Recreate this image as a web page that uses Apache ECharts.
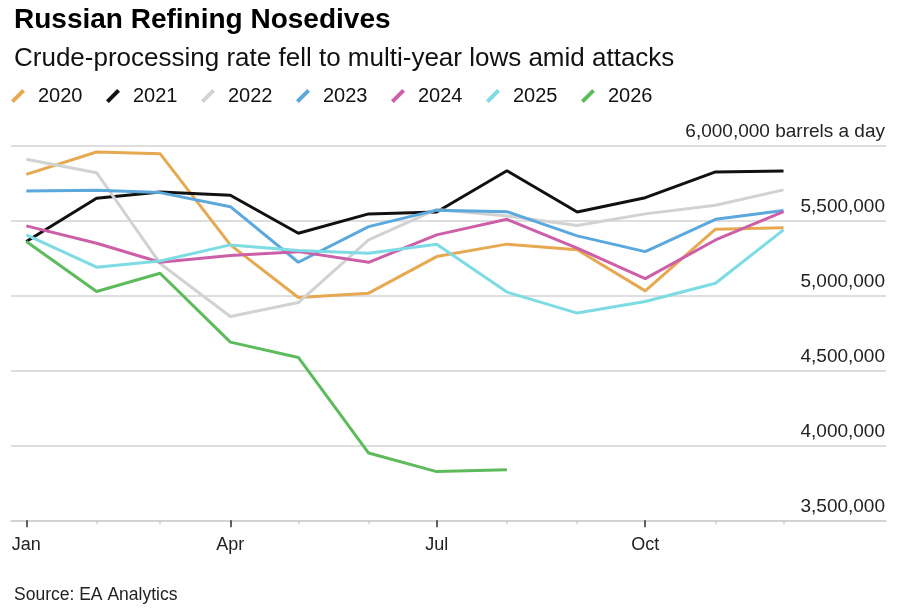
<!DOCTYPE html>
<html>
<head>
<meta charset="utf-8">
<script src="https://cdn.jsdelivr.net/npm/echarts@6/dist/echarts.min.js"></script>
<style>
  html, body { margin: 0; padding: 0; background: #fff; }
  #chart { width: 900px; height: 614px; }
</style>
</head>
<body>
<div id="chart"></div>
<script>
// month labels and the day of year each month starts on
const months = ["Jan", "Feb", "Mar", "Apr", "May", "Jun", "Jul", "Aug", "Sep", "Oct", "Nov", "Dec"];
const monthStart = [0, 31, 59, 90, 120, 151, 181, 212, 243, 273, 304, 334];
const labelMonths = ["Jan", "Apr", "Jul", "Oct"];

const yearNames = ["2020", "2021", "2022", "2023", "2024", "2025", "2026"];
const yearColors = ["#e6a951", "#111111", "#d2d2d2", "#5ba8dc", "#cd5fa8", "#7cdbe3", "#5dbb5b"];

// barrels a day
const y2020 = [5809000, 5958000, 5947000, 5338000, 4987000, 5016000, 5260000, 5343000, 5305000, 5031000, 5443000, 5453000];
const y2021 = [5360000, 5649000, 5691000, 5669000, 5416000, 5545000, 5558000, 5833000, 5558000, 5653000, 5825000, 5831000];
const y2022 = [5909000, 5820000, 5214000, 4860000, 4953000, 5371000, 5575000, 5531000, 5467000, 5545000, 5602000, 5705000];
const y2023 = [5698000, 5702000, 5687000, 5593000, 5222000, 5460000, 5570000, 5560000, 5398000, 5293000, 5509000, 5567000];
const y2024 = [5465000, 5349000, 5222000, 5267000, 5293000, 5222000, 5405000, 5509000, 5316000, 5113000, 5371000, 5560000];
const y2025 = [5405000, 5189000, 5231000, 5338000, 5300000, 5282000, 5343000, 5023000, 4883000, 4960000, 5082000, 5438000];
const y2026 = [5360000, 5027000, 5149000, 4689000, 4587000, 3949000, 3825000, 3838000];

const yTicks = [3500000, 4000000, 4500000, 5000000, 5500000, 6000000];
const unitLabel = " barrels a day";

const allYears = [y2020, y2021, y2022, y2023, y2024, y2025, y2026];
const font = "Liberation Sans, Arial, sans-serif";

const chartDom = document.getElementById("chart");
const myChart = echarts.init(chartDom, null, { renderer: "canvas" });

const series = yearNames.map(function (name, i) {
    return {
        name: name,
        type: "line",
        data: allYears[i].map(function (v, m) { return [monthStart[m], v]; }),
        showSymbol: false,
        symbol: "none",
        lineStyle: { color: yearColors[i], width: 3 },
        itemStyle: { color: yearColors[i] },
        emphasis: { disabled: true },
        z: 2 + i
    };
});

const majorDays = labelMonths.map(function (m) { return monthStart[months.indexOf(m)]; });

const option = {
    animation: false,
    backgroundColor: "#fff",
    title: [
        {
            text: "Russian Refining Nosedives",
            left: 9,
            top: 1,
            textStyle: { fontFamily: font, fontSize: 28, fontWeight: "bold", color: "#000" }
        },
        {
            text: "Crude-processing rate fell to multi-year lows amid attacks",
            left: 9,
            top: 41,
            textStyle: { fontFamily: font, fontSize: 26, fontWeight: "normal", color: "#111" }
        },
        {
            text: "Source: EA Analytics",
            left: 9,
            top: 581,
            textStyle: { fontFamily: font, fontSize: 17.5, fontWeight: "normal", color: "#222" }
        }
    ],
    legend: {
        data: yearNames,
        left: 11,
        top: 86,
        // short thick slash
        icon: "path://M0,11.2 L2.8,14 L14,2.8 L11.2,0 Z",
        itemWidth: 14,
        itemHeight: 14,
        itemGap: 23.5,
        padding: 0,
        textStyle: { fontFamily: font, fontSize: 20, color: "#111", padding: [0, 0, 6, 8] }
    },
    grid: { left: 11, right: 14, top: 145.7, bottom: 93.7, containLabel: false },
    xAxis: [
        {
            type: "value",
            min: -6.75,
            max: 379.2,
            splitLine: { show: false },
            axisLine: { show: true, lineStyle: { color: "#cfcfcf", width: 1.5 } },
            axisTick: {
                show: true,
                customValues: monthStart,
                length: 4,
                lineStyle: { color: "#cfcfcf", width: 1.5 }
            },
            axisLabel: { show: false }
        },
        {
            type: "value",
            position: "bottom",
            min: -6.75,
            max: 379.2,
            splitLine: { show: false },
            axisLine: { show: false },
            axisTick: {
                show: true,
                customValues: majorDays,
                length: 7,
                lineStyle: { color: "#333", width: 1.5 }
            },
            axisLabel: {
                customValues: majorDays,
                formatter: function (v) { return months[monthStart.indexOf(v)]; },
                fontFamily: font,
                fontSize: 18,
                color: "#222",
                margin: 16
            }
        }
    ],
    yAxis: {
        type: "value",
        position: "right",
        min: yTicks[0],
        max: yTicks[yTicks.length - 1],
        interval: 500000,
        axisLine: { show: false },
        axisTick: { show: false },
        splitLine: { show: true, lineStyle: { color: "#d3d3d3", width: 1.5 } },
        axisLabel: {
            inside: true,
            margin: 1,
            verticalAlign: "bottom",
            padding: [0, 0, 4, 0],
            fontFamily: font,
            fontSize: 19,
            color: "#222",
            formatter: function (v) {
                const s = v.toLocaleString("en-US");
                return v === yTicks[yTicks.length - 1] ? s + unitLabel : s;
            }
        }
    },
    series: series
};

myChart.setOption(option);
</script>
</body>
</html>
